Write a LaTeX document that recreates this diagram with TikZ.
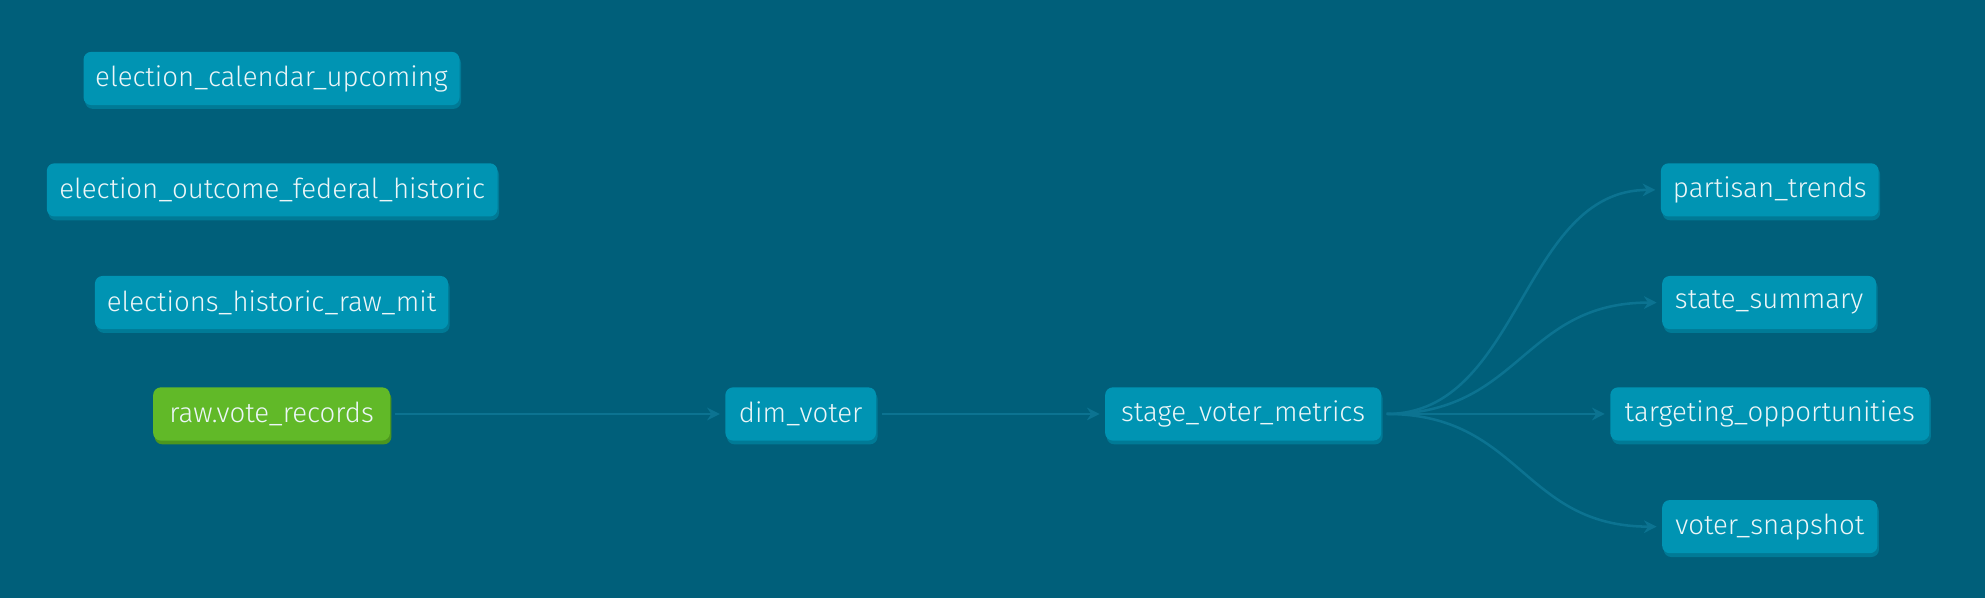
\documentclass[tikz,border=0pt]{standalone}
\usepackage{fontspec}
\setmainfont{Fira Sans}[UprightFont={* Light}]
\usetikzlibrary{arrows.meta}
\definecolor{bgcol}{RGB}{0,95,122}
\definecolor{boxcol}{RGB}{0,148,179}
\definecolor{shadowcol}{RGB}{0,122,150}
\definecolor{greencol}{RGB}{97,185,40}
\definecolor{greenshadow}{RGB}{76,150,30}
\definecolor{edgecol}{RGB}{12,115,145}
\definecolor{txtcol}{RGB}{236,246,248}
\begin{document}
\begin{tikzpicture}[x=0.5pt,y=-0.5pt,
  shadowfill/.style={fill=shadowcol},
  model/.style={rounded corners=3pt, fill=boxcol, text=txtcol, minimum height=21pt,
    inner sep=0pt, font=\fontsize{10.9}{12}\selectfont,
    preaction={shadowfill, transform canvas={shift={(0.6pt,-1.5pt)}}}},
  src/.style={model, fill=greencol, shadowfill/.style={fill=greenshadow}},
  link/.style={draw=edgecol, line width=1pt, -{Stealth[length=5pt,width=5pt]},
    shorten <=2pt, shorten >=2pt}]
\fill[bgcol] (0,0) rectangle (1568,472);
\node[model, minimum width=148.5pt] (ecu) at (214.5,62) {election\_calendar\_upcoming};
\node[model, minimum width=178pt] (eofh) at (215,150) {election\_outcome\_federal\_historic};
\node[model, minimum width=139.5pt] (ehrm) at (214.5,239) {elections\_historic\_raw\_mit};
\node[src, minimum width=93.5pt] (rvr) at (214.5,327) {raw.vote\_records};
\node[model, minimum width=59.5pt] (dim) at (632.5,327) {dim\_voter};
\node[model, minimum width=109pt] (svm) at (982,327) {stage\_voter\_metrics};
\node[model, minimum width=86pt] (pt) at (1398,150) {partisan\_trends};
\node[model, minimum width=84.5pt] (ss) at (1397.5,239) {state\_summary};
\node[model, minimum width=126pt] (to) at (1398,327) {targeting\_opportunities};
\node[model, minimum width=85pt] (vs) at (1398,416) {voter\_snapshot};
\draw[link] (rvr.east) -- (dim.west);
\draw[link] (dim.east) -- (svm.west);
\draw[link] (svm.east) .. controls +(110,0) and +(-110,0) .. (pt.west);
\draw[link] (svm.east) .. controls +(110,0) and +(-110,0) .. (ss.west);
\draw[link] (svm.east) -- (to.west);
\draw[link] (svm.east) .. controls +(110,0) and +(-110,0) .. (vs.west);
\end{tikzpicture}
\end{document}
